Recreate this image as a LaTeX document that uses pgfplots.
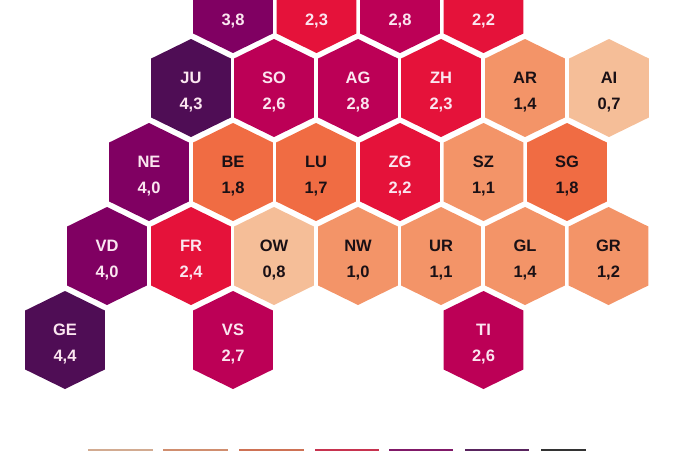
\documentclass[border=0pt]{standalone}
\usepackage{pgfplots}
\usepackage{pgfplotstable}
\usepackage{fontspec}
\setmainfont{Liberation Sans}
\pgfplotsset{compat=1.18}

\definecolor{c1}{HTML}{F5BE98}
\definecolor{c2}{HTML}{F39468}
\definecolor{c3}{HTML}{F06C43}
\definecolor{c4}{HTML}{E5123A}
\definecolor{c5}{HTML}{BC0056}
\definecolor{c6}{HTML}{800062}
\definecolor{c7}{HTML}{4F0D55}
\definecolor{darktext}{HTML}{1A1015}
\definecolor{lighttext}{HTML}{FBE6F0}

% one table per colour class, x and y in picture pixels
\pgfplotstableread{
x y name v
609 88 AI 0.7
274 256 OW 0.8
}\classA
\pgfplotstableread{
x y name v
525 88 AR 1.4
483.5 172 SZ 1.1
358 256 NW 1.0
441 256 UR 1.1
525 256 GL 1.4
608.5 256 GR 1.2
}\classB
\pgfplotstableread{
x y name v
233 172 BE 1.8
316 172 LU 1.7
567 172 SG 1.8
}\classC
\pgfplotstableread{
x y name v
316.5 4 BL 2.3
483.5 4 TG 2.2
441 88 ZH 2.3
400 172 ZG 2.2
191 256 FR 2.4
}\classD
\pgfplotstableread{
x y name v
400 4 SH 2.8
274 88 SO 2.6
358 88 AG 2.8
233 340 VS 2.7
483.5 340 TI 2.6
}\classE
\pgfplotstableread{
x y name v
233 4 BS 3.8
149 172 NE 4.0
107 256 VD 4.0
}\classF
\pgfplotstableread{
x y name v
191 88 JU 4.3
65 340 GE 4.4
}\classG

\pgfdeclareplotmark{hex}{%
  \pgfpathmoveto{\pgfqpoint{0pt}{49pt}}%
  \pgfpathlineto{\pgfqpoint{39.8pt}{29.5pt}}%
  \pgfpathlineto{\pgfqpoint{39.8pt}{-29.5pt}}%
  \pgfpathlineto{\pgfqpoint{0pt}{-49pt}}%
  \pgfpathlineto{\pgfqpoint{-39.8pt}{-29.5pt}}%
  \pgfpathlineto{\pgfqpoint{-39.8pt}{29.5pt}}%
  \pgfpathclose
  \pgfusepathqfill
}

\newcommand{\hexes}[3]{%
  \addplot[only marks, mark=hex, mark options={fill=#1, draw=none},
    point meta=explicit symbolic,
    visualization depends on={\thisrow{v}\as\val},
    nodes near coords={\pgfplotspointmeta\\\pgfmathprintnumber[fixed,fixed zerofill,precision=1,use comma,assume math mode=true]{\val}},
    every node near coord/.style={anchor=center, yshift=-3.6pt, align=center, inner sep=0pt,
      text=#2, font=\fontsize{16.5}{26}\selectfont\bfseries},
  ] table[x=x, y=y, meta=name] {#3};
}

\begin{document}
\begin{tikzpicture}
\clip[use as bounding box] (0,0) rectangle (700pt,450pt);
\begin{axis}[
  at={(0,0)}, anchor=south west,
  scale only axis, width=700pt, height=450pt,
  xmin=0, xmax=700, ymin=0, ymax=450, y dir=reverse,
  hide axis, clip=true,
]
  \hexes{c1}{darktext}{\classA}
  \hexes{c2}{darktext}{\classB}
  \hexes{c3}{darktext}{\classC}
  \hexes{c4}{lighttext}{\classD}
  \hexes{c5}{lighttext}{\classE}
  \hexes{c6}{lighttext}{\classF}
  \hexes{c7}{lighttext}{\classG}
  % legend boxes, only their top edge shows in the frame
  \addplot[fill=c1!70!gray, draw=none] coordinates {(88,448.5)(153,448.5)(153,460)(88,460)} --cycle;
  \addplot[fill=c2!70!gray, draw=none] coordinates {(163,448.5)(228,448.5)(228,460)(163,460)} --cycle;
  \addplot[fill=c3!70!gray, draw=none] coordinates {(239,448.5)(304,448.5)(304,460)(239,460)} --cycle;
  \addplot[fill=c4!70!gray, draw=none] coordinates {(315,448.5)(379,448.5)(379,460)(315,460)} --cycle;
  \addplot[fill=c6!80!gray, draw=none] coordinates {(389,448.5)(453,448.5)(453,460)(389,460)} --cycle;
  \addplot[fill=c7!80!gray, draw=none] coordinates {(465,448.5)(529,448.5)(529,460)(465,460)} --cycle;
  \addplot[fill=black!80, draw=none] coordinates {(541,448.5)(586,448.5)(586,460)(541,460)} --cycle;
\end{axis}
\end{tikzpicture}
\end{document}
